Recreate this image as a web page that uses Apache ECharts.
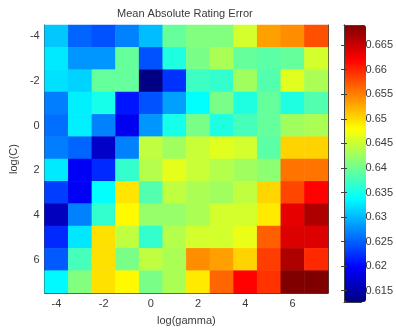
<!DOCTYPE html>
<html>
<head>
<meta charset="utf-8">
<script src="https://cdn.jsdelivr.net/npm/echarts@6/dist/echarts.min.js"></script>
<style>
  html, body { margin: 0; padding: 0; background: #fff; }
  #chart { width: 396px; height: 331px; }
</style>
</head>
<body>
<div id="chart"></div>
<script>
// log(gamma) columns and log(C) rows
const gammaLabels = ['-4', '-3', '-2', '-1', '0', '1', '2', '3', '4', '5', '6', '7'];
const cLabels = ['-4', '-3', '-2', '-1', '0', '1', '2', '3', '4', '5', '6', '7'];

// mean absolute rating error, one array per log(C) row
const rowCm4 = [0.6308, 0.6253, 0.6242, 0.6269, 0.6302, 0.6394, 0.6410, 0.6410, 0.6455, 0.6532, 0.6543, 0.6577];
const rowCm3 = [0.6327, 0.6280, 0.6280, 0.6394, 0.6242, 0.6355, 0.6405, 0.6433, 0.6394, 0.6388, 0.6394, 0.6455];
const rowCm2 = [0.6322, 0.6314, 0.6394, 0.6394, 0.6128, 0.6225, 0.6372, 0.6366, 0.6427, 0.6383, 0.6463, 0.6433];
const rowCm1 = [0.6267, 0.6330, 0.6350, 0.6209, 0.6242, 0.6286, 0.6339, 0.6405, 0.6355, 0.6394, 0.6355, 0.6383];
const rowC0  = [0.6258, 0.6330, 0.6269, 0.6189, 0.6280, 0.6350, 0.6405, 0.6355, 0.6377, 0.6394, 0.6427, 0.6433];
const rowC1  = [0.6267, 0.6253, 0.6167, 0.6269, 0.6444, 0.6427, 0.6449, 0.6463, 0.6455, 0.6388, 0.6504, 0.6504];
const rowC2  = [0.6327, 0.6192, 0.6220, 0.6366, 0.6438, 0.6465, 0.6449, 0.6438, 0.6427, 0.6416, 0.6557, 0.6557];
const rowC3  = [0.6231, 0.6192, 0.6339, 0.6494, 0.6383, 0.6444, 0.6433, 0.6427, 0.6444, 0.6502, 0.6582, 0.6620];
const rowC4  = [0.6161, 0.6269, 0.6366, 0.6482, 0.6421, 0.6421, 0.6433, 0.6455, 0.6455, 0.6491, 0.6634, 0.6665];
const rowC5  = [0.6220, 0.6325, 0.6496, 0.6444, 0.6366, 0.6438, 0.6455, 0.6455, 0.6468, 0.6568, 0.6640, 0.6640];
const rowC6  = [0.6247, 0.6377, 0.6496, 0.6405, 0.6444, 0.6433, 0.6543, 0.6532, 0.6504, 0.6587, 0.6665, 0.6598];
const rowC7  = [0.6336, 0.6410, 0.6496, 0.6482, 0.6405, 0.6433, 0.6491, 0.6565, 0.6620, 0.6593, 0.6691, 0.6691];

const rows = [rowCm4, rowCm3, rowCm2, rowCm1, rowC0, rowC1, rowC2, rowC3, rowC4, rowC5, rowC6, rowC7];

// colour scale limits
const vMin = 0.6127;
const vMax = 0.6691;

// jet colormap stops
const jet = ['#000080', '#0000ff', '#0080ff', '#00ffff', '#80ff80', '#ffff00', '#ff8000', '#ff0000', '#800000'];

const heatData = [];
rows.forEach((row, yi) => {
    row.forEach((v, xi) => heatData.push([xi, yi, v]));
});

const font = 'Liberation Sans, Arial, sans-serif';
const ink = '#3a3a3a';
const frame = { lineStyle: { color: '#404040', width: 1 } };
const tickIn = { show: true, inside: true, length: 3, alignWithLabel: true, interval: 1, lineStyle: { color: '#404040' } };
const noTick = { show: false };

const myChart = echarts.init(document.getElementById('chart'));

const option = {
    animation: false,
    textStyle: { fontFamily: font },
    title: {
        text: 'Mean Absolute Rating Error',
        left: 117,
        top: 8,
        padding: 0,
        textStyle: { fontSize: 11, fontWeight: 'normal', color: ink, fontFamily: font }
    },
    grid: [
        { left: 35, top: 25, width: 293, height: 277 },
        { left: 344, top: 25, width: 22, height: 277 }
    ],
    xAxis: [
        {
            type: 'category', gridIndex: 0, position: 'bottom', data: gammaLabels,
            axisLine: frame, axisTick: tickIn,
            axisLabel: { interval: 1, fontSize: 11, color: ink, margin: 5 },
            name: 'log(gamma)', nameLocation: 'middle', nameGap: 22,
            nameTextStyle: { fontSize: 11, color: ink },
            splitLine: { show: false }
        },
        {
            type: 'category', gridIndex: 0, position: 'top', data: gammaLabels,
            axisLine: frame, axisTick: tickIn, axisLabel: { show: false },
            splitLine: { show: false }
        },
        {
            type: 'value', gridIndex: 1, position: 'bottom', min: 0, max: 1, z: 10,
            axisLine: frame, axisTick: noTick, axisLabel: { show: false }, splitLine: { show: false }
        },
        {
            type: 'value', gridIndex: 1, position: 'top', min: 0, max: 1, z: 10,
            axisLine: frame, axisTick: noTick, axisLabel: { show: false }, splitLine: { show: false }
        }
    ],
    yAxis: [
        {
            type: 'category', gridIndex: 0, position: 'left', data: cLabels, inverse: true,
            axisLine: frame, axisTick: tickIn,
            axisLabel: { interval: 1, fontSize: 11, color: ink, margin: 5 },
            name: 'log(C)', nameLocation: 'middle', nameGap: 20, nameRotate: 90,
            nameTextStyle: { fontSize: 11, color: ink },
            splitLine: { show: false }
        },
        {
            type: 'category', gridIndex: 0, position: 'right', data: cLabels, inverse: true,
            axisLine: frame, axisTick: tickIn, axisLabel: { show: false },
            splitLine: { show: false }
        },
        {
            type: 'value', gridIndex: 1, position: 'right', min: vMin, max: vMax, splitNumber: 12, z: 10,
            axisLine: frame,
            axisTick: { show: true, inside: true, length: 3, lineStyle: { color: '#404040' } },
            axisLabel: { fontSize: 11, color: ink, margin: 4, showMinLabel: false, showMaxLabel: false },
            splitLine: { show: false }
        },
        {
            type: 'value', gridIndex: 1, position: 'left', min: vMin, max: vMax, splitNumber: 12, z: 10,
            axisLine: frame,
            axisTick: { show: true, inside: true, length: 3, lineStyle: { color: '#404040' } },
            axisLabel: { show: false },
            splitLine: { show: false }
        }
    ],
    visualMap: {
        type: 'continuous',
        seriesIndex: 0,
        min: vMin,
        max: vMax,
        calculable: false,
        orient: 'vertical',
        left: 344,
        top: 25,
        padding: 0,
        itemWidth: 22,
        itemHeight: 277,
        inRange: { color: jet }
    },
    series: [
        {
            type: 'heatmap',
            xAxisIndex: 0,
            yAxisIndex: 0,
            data: heatData,
            itemStyle: { borderWidth: 0 },
            emphasis: { disabled: true }
        }
    ]
};

myChart.setOption(option);

window.addEventListener('resize', () => {
    myChart.resize();
});
</script>
</body>
</html>
